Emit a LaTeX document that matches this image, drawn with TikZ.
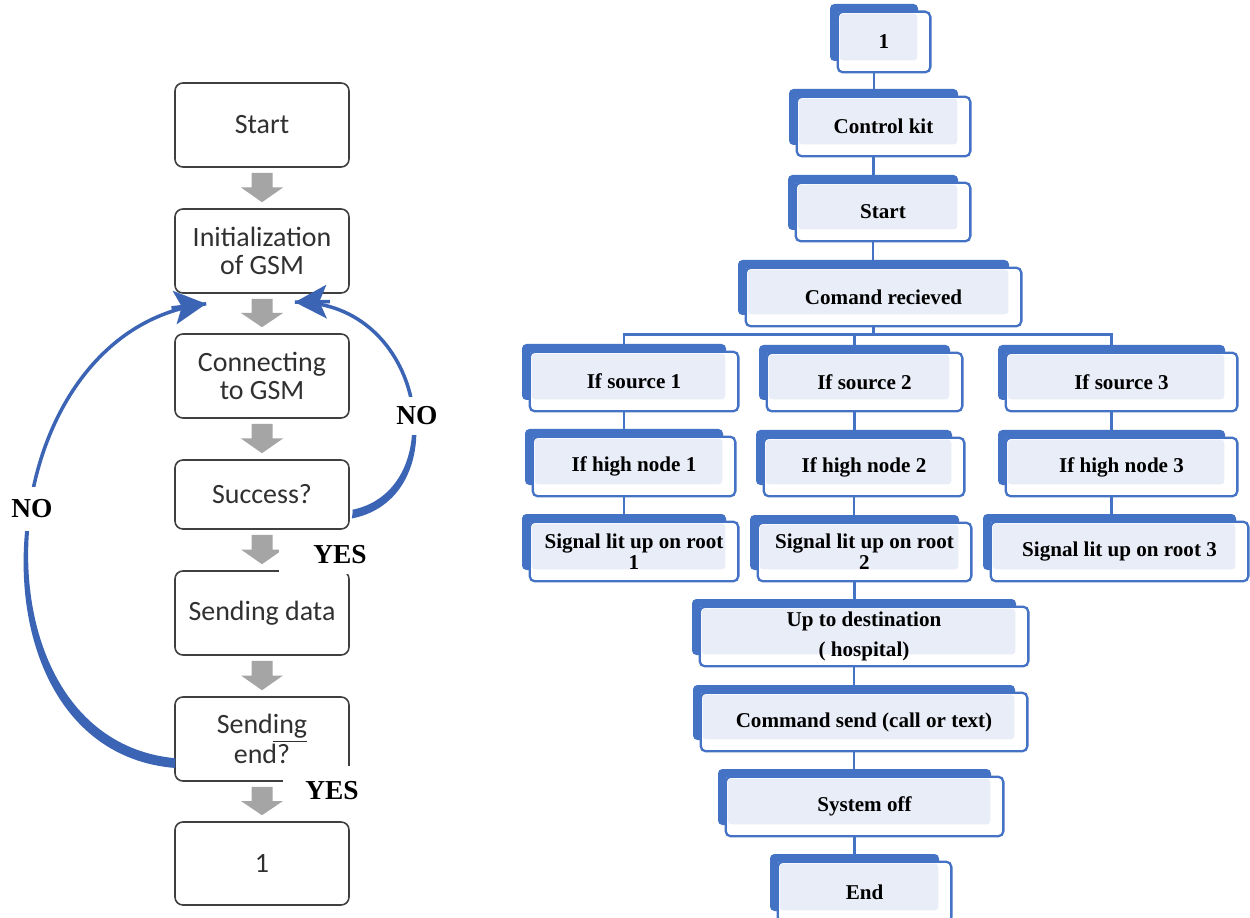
\documentclass[tikz,border=0pt]{standalone}
\usepackage{fontspec}
\setmainfont{Liberation Serif}
\newfontfamily\calibfont{Carlito}
\usetikzlibrary{arrows.meta,calc}
\pgfdeclarelayer{bg}
\pgfsetlayers{bg,main}
\definecolor{sblue}{HTML}{4472C4}
\definecolor{slight}{HTML}{E9EDF7}
\definecolor{agray}{HTML}{A5A5A5}
\definecolor{arcblue}{HTML}{3B64B4}
\definecolor{boxline}{HTML}{3F3F3F}
\definecolor{txtgray}{HTML}{303030}
\tikzset{
  lbox/.style={draw=boxline, line width=0.9pt, rounded corners=4.5pt, fill=white, text=txtgray,
    font=\calibfont\fontsize{15.9}{15.6}\selectfont, align=center, inner sep=0pt},
  backbox/.style={fill=sblue, rounded corners=2.5pt, inner sep=0pt, draw=none},
  frontbox/.style={fill=white, inner sep=0pt, draw=none},
  frontline/.style={draw=sblue, line width=1.3pt, rounded corners=3pt},
  rtext/.style={font=\bfseries\fontsize{12}{12}\selectfont, align=center, inner sep=0pt},
  conn/.style={draw=sblue, line width=1.4pt},
  lab/.style={font=\bfseries\fontsize{15.6}{15.6}\selectfont, inner sep=0pt},
  arcline/.style={draw=arcblue, line width=2pt},
  archead/.style={draw=arcblue, line width=2pt, -{Stealth[length=18pt,width=19pt,inset=4pt]}},
}
\newcommand\lbx[6]{\node[lbox, minimum width={(#4-#2)*0.02cm}, minimum height={(#5-#3)*0.02cm}] (#1) at ({(#2+#4)/2},{(#3+#5)/2}) {#6};}
\newcommand\rbx[6]{%
  \node[backbox, minimum width={(#4-#2-4)*0.02cm}, minimum height={(#5-#3-3)*0.02cm}] (#1b) at ({(#2+#4)/2-10},{(#3+#5)/2-9.5}) {};
  \node[frontbox, minimum width={(#4-#2)*0.02cm}, minimum height={(#5-#3)*0.02cm}] (#1f) at ({(#2+#4)/2},{(#3+#5)/2}) {};
  \fill[slight, rounded corners=2pt] ($(#1f.north west)+(2,2)$) rectangle ($(#1b.south east)+(-1,-1)$);
  \draw[frontline] (#1f.north west) rectangle (#1f.south east);
  \node[rtext] (#1) at (#1f.center) {#6};}
\newcommand\garrow[2]{%
  \path (#1.south) ++(0,5) coordinate (ga) (#2.north) ++(0,-6) coordinate (gb);
  \path ($(ga)!0.5!(gb)$) coordinate (gm);
  \fill[agray] ($(ga)+(-10.5,0)$) -- ($(ga)+(10.5,0)$) -- ($(gm)+(10.5,0)$) -- ($(gm)+(21,0)$) -- (gb)
    -- ($(gm)+(-21,0)$) -- ($(gm)+(-10.5,0)$) -- cycle;}
\newcommand\vconn[2]{\draw[conn] (#1b.south) -- (#1b.south |- #2b.north);}
\begin{document}
\begin{tikzpicture}[x=0.02cm,y=-0.02cm]
\clip (0,0) rectangle (1250,918);
\begin{pgfonlayer}{bg}
\fill[white] (0,0) rectangle (1250,918);
\end{pgfonlayer}
% ---------- left flowchart ----------
\lbx{ls}{175}{83}{349}{167}{Start}
\lbx{li}{175}{209}{349}{293}{Initialization\\of GSM}
\lbx{lc}{175}{334}{349}{418}{Connecting\\to GSM}
\lbx{lsu}{175}{460}{349}{529}{Success?}
\lbx{lsd}{175}{571}{349}{655}{Sending data}
\lbx{lse}{175}{697}{349}{781}{Send\underline{ing}\\end?}
\lbx{l1}{175}{822}{349}{905}{1}
\garrow{ls}{li}
\garrow{li}{lc}
\garrow{lc}{lsu}
\garrow{lsu}{lsd}
\garrow{lsd}{lse}
\garrow{lse}{l1}
% right loop arc (NO)
\coordinate (ra) at ($(lsu.east)+(3,17)$);
\coordinate (rb) at ($(lc.north east)+(-55,-31)$);
\coordinate (rc1) at (455,490);
\coordinate (rc2) at (425,300);
\fill[arcblue] (ra) .. controls (rc1) and (rc2) .. (rb) .. controls (rc2) and (461,497) .. ($(ra)+(-1,7)$) -- cycle;
\draw[arcline] (ra) .. controls (rc1) and (rc2) .. (rb);
\draw[archead] ($(rb)!0.7cm!(rc2)$) -- (rb);
% left loop arc (NO)
\coordinate (la) at ($(lse.west)+(1,21)$);
\coordinate (lb) at ($(li.south west)+(32,10)$);
\coordinate (lc1) at (-40,740);
\coordinate (lc2) at (-15,330);
\fill[arcblue] (la) .. controls (lc1) and (lc2) .. (lb) .. controls (lc2) and (-47,750) .. ($(la)+(0,8)$) -- cycle;
\draw[arcline] (la) .. controls (lc1) and (lc2) .. (lb);
\draw[archead] ($(lb)!0.7cm!(lc2)$) -- (lb);
% labels
\node[lab, fill=white, inner xsep=0.04cm, inner ysep=0.2cm] (no1) at (417,416) {NO};
\node[lab, fill=white, inner xsep=0.04cm, inner ysep=0.26cm] (no2) at (32,509) {NO};
\fill[white] (279,540) rectangle (353,574);
\node[lab] (yes1) at (340,555) {YES};
\fill[white] (283,766) rectangle (353,783);
\node[lab] (yes2) at (332,791) {YES};
% ---------- right diagram ----------
\rbx{one}{838}{12}{930}{72}{1}
\rbx{ck}{797}{97}{970}{156}{Control kit}
\rbx{st}{796}{183}{970}{241}{Start}
\rbx{cmd}{746}{268}{1021}{326}{Comand recieved}
\rbx{sa}{530}{352}{738}{411}{If source 1}
\rbx{sb}{767}{353}{962}{411}{If source 2}
\rbx{sc}{1006}{353}{1237}{411}{If source 3}
\rbx{ha}{533}{437}{735}{496}{If high node 1}
\rbx{hb}{764}{438}{964}{496}{If high node 2}
\rbx{hc}{1006}{438}{1237}{496}{If high node 3}
\rbx{ga}{530}{522}{738}{581}{Signal lit up on root\\1}
\rbx{gb}{758}{523}{971}{581}{Signal lit up on root\\2}
\rbx{gc}{991}{522}{1248}{581}{Signal lit up on root 3}
\rbx{up}{700}{607}{1028}{666}{Up to destination\\[5pt]( hospital)}
\rbx{cs}{701}{693}{1027}{751}{Command send (call or text)}
\rbx{so}{726}{777}{1003}{836}{System off}
\rbx{en}{778}{862}{951}{922}{End}
\begin{pgfonlayer}{bg}
\vconn{one}{ck}
\vconn{ck}{st}
\vconn{st}{cmd}
\path (cmdb.south) ++(0,19) coordinate (hub);
\draw[conn] (cmdb.south) -- (hub);
\draw[conn] (hub) -| (sab.north);
\draw[conn] (hub) -| (sbb.north);
\draw[conn] (hub) -| (scb.north);
\vconn{sa}{ha}
\vconn{ha}{ga}
\vconn{sb}{hb}
\vconn{hb}{gb}
\vconn{sc}{hc}
\vconn{hc}{gc}
\vconn{gb}{up}
\vconn{up}{cs}
\vconn{cs}{so}
\vconn{so}{en}
\end{pgfonlayer}
\end{tikzpicture}
\end{document}
